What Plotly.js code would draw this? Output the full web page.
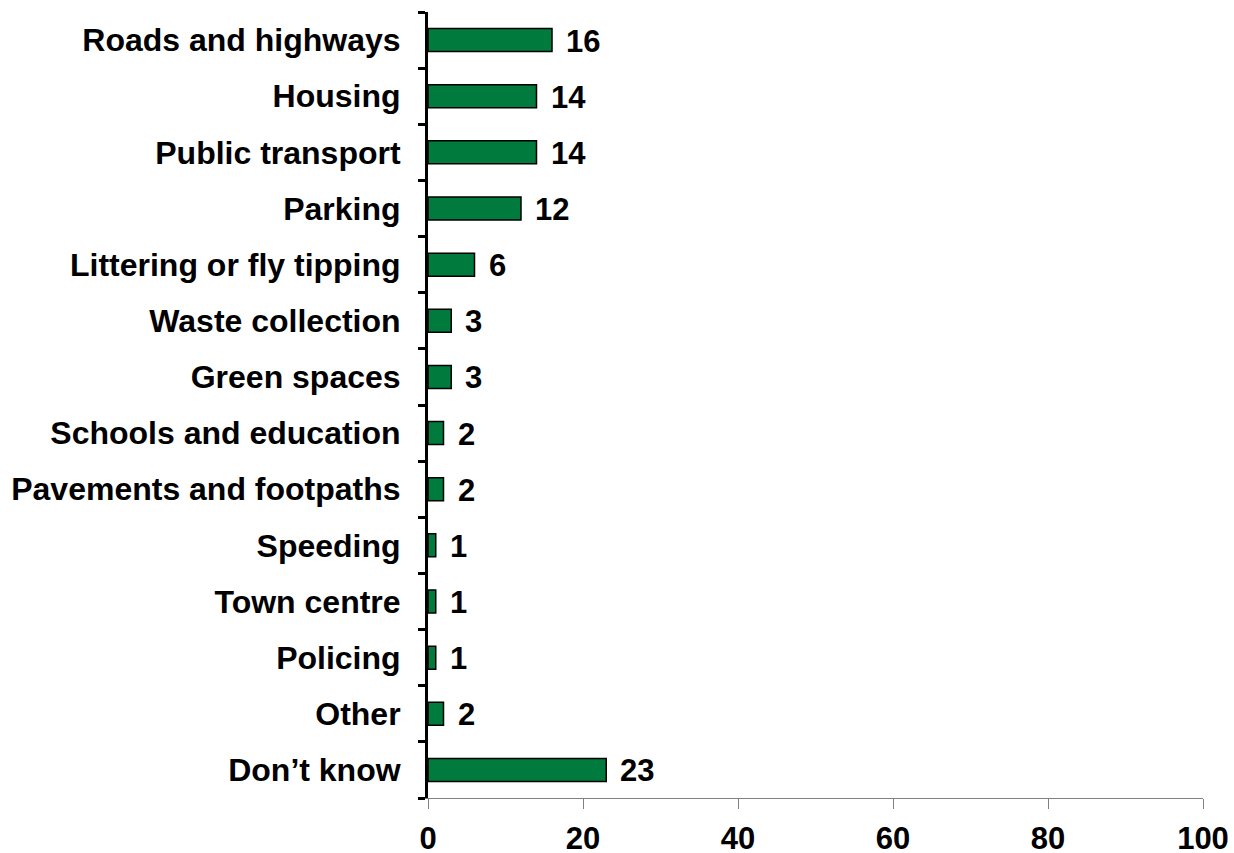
<!DOCTYPE html>
<html>
<head>
<meta charset="utf-8">
<script src="https://cdn.plot.ly/plotly-3.0.1.min.js"></script>
<style>html,body{margin:0;padding:0;background:#fff;}#chart{width:1234px;height:853px;}</style>
</head>
<body>
<div id="chart"></div>
<script>
var categories = ["Roads and highways","Housing","Public transport","Parking","Littering or fly tipping","Waste collection","Green spaces","Schools and education","Pavements and footpaths","Speeding","Town centre","Policing","Other","Don\u2019t know"];
var values = [16,14,14,12,6,3,3,2,2,1,1,1,2,23];
var xTicks = [0,20,40,60,80,100];

var family = "Liberation Sans, Arial, sans-serif";

var trace = {
  type: "bar",
  orientation: "h",
  x: values,
  y: categories,
  marker: {color: "#007A3D", line: {color: "#000", width: 1.5}},
  hoverinfo: "none"
};

var annotations = values.map(function(v, i){
  return {x: v, y: categories[i], xref: "x", yref: "y", text: "<b>" + v + "</b>",
    showarrow: false, xanchor: "left", yanchor: "middle", xshift: 12, yshift: -1,
    font: {family: family, size: 31, color: "#000"}};
});

var layout = {
  width: 1234, height: 853,
  margin: {l: 428, r: 31, t: 12, b: 55, pad: 0},
  paper_bgcolor: "#fff", plot_bgcolor: "#fff",
  showlegend: false,
  bargap: 0.59,
  font: {family: family, size: 30, color: "#000"},
  xaxis: {
    range: [0, 100], tickvals: xTicks, ticktext: xTicks.map(function(t){return "<b>"+t+"</b>";}),
    showgrid: false, zeroline: false, showline: true, linecolor: "#808080", linewidth: 1,
    ticks: "outside", ticklen: 10, tickwidth: 1, tickcolor: "#808080",
    ticklabelstandoff: 3,
    tickfont: {family: family, size: 31, color: "#000"},
    fixedrange: true
  },
  yaxis: {
    autorange: "reversed", type: "category",
    tickvals: categories, ticktext: categories.map(function(c){return "<b>"+c+"</b>";}),
    showgrid: false, zeroline: false, showline: true, linecolor: "#000", linewidth: 3,
    ticks: "outside", tickson: "boundaries", ticklen: 7, tickwidth: 3, tickcolor: "#000",
    ticklabelstandoff: 18,
    tickfont: {family: family, size: 32, color: "#000"},
    fixedrange: true
  },
  annotations: annotations
};

Plotly.newPlot("chart", [trace], layout, {displayModeBar: false, staticPlot: true});
</script>
</body>
</html>
